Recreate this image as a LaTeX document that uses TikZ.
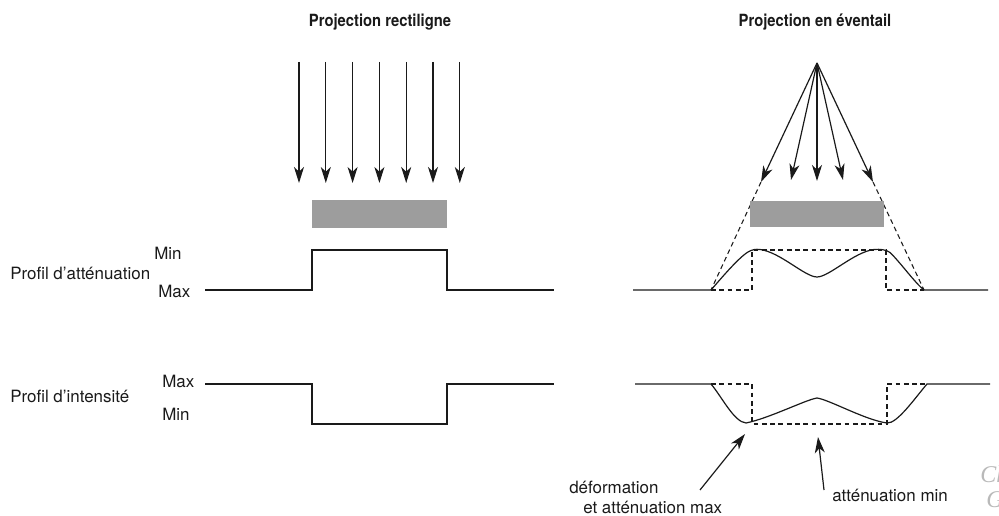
\documentclass[tikz,border=0pt]{standalone}
\usepackage{fontspec}
\setmainfont{TeX Gyre Heros}
\newfontfamily\titlefont[FakeStretch=0.88]{TeX Gyre Heros}
\newfontfamily\sigfont{Liberation Serif}
\usetikzlibrary{arrows.meta}
\definecolor{boxgray}{HTML}{9D9D9D}
\definecolor{ink}{HTML}{1A1A1A}
\begin{document}
\begin{tikzpicture}[x=0.75pt,y=-0.75pt,
  ray/.style={line width=0.9pt,draw=ink,-{Stealth[length=12pt,width=7.5pt,inset=3.5pt]}},
  prof/.style={line width=0.9pt,draw=ink,line join=miter},
  dashline/.style={line width=0.8pt,draw=ink,dash pattern=on 3.6pt off 2.6pt},
  lbl/.style={font=\fontsize{12.7}{14}\selectfont,text=ink,inner sep=0pt,anchor=west},
  ttl/.style={font=\titlefont\bfseries\fontsize{12.6}{14}\selectfont,text=ink,inner sep=0pt},
  objbox/.style={fill=boxgray,draw=none}]
\useasboundingbox (0,0) rectangle (999,516);

% ---------- titles ----------
\node[ttl] (t1) at (380,22) {Projection rectiligne};
\node[ttl] (t2) at (815,22) {Projection en éventail};

% ---------- left: parallel rays ----------
\foreach \i in {0,...,6}{
  \coordinate (ls\i) at ({299+26.8*\i},62);
  \coordinate (lt\i) at ({299+26.8*\i},183);
  \draw[ray] (ls\i) -- (lt\i);
}
\fill[objbox] (312,200) rectangle (447,228);

% labels
\node[lbl] (pa) at (10,273) {Profil d'atténuation};
\node[lbl] (amin) at (154,253) {Min};
\node[lbl] (amax) at (158,291) {Max};
\node[lbl] (pi) at (10,396) {Profil d'intensité};
\node[lbl] (imax) at (162,381) {Max};
\node[lbl] (imin) at (162,414) {Min};

% left profiles
\draw[prof] (205,290) -- (312,290) -- (312,250) -- (447,250) -- (447,290) -- (554,290);
\draw[prof] (205,384) -- (312,384) -- (312,424) -- (447,424) -- (447,384) -- (554,384);

% ---------- right: fan beam ----------
\coordinate (apex) at (817,63);
\coordinate (f1) at (761,182);
\coordinate (f2) at (791,180);
\coordinate (f3) at (817,181);
\coordinate (f4) at (843,180);
\coordinate (f5) at (873,182);
\foreach \k in {1,...,5}{ \draw[ray] (apex) -- (f\k); }
\coordinate (fl) at (711,290);
\coordinate (fr) at (924,290);
\draw[dashline] (f1) -- (fl);
\draw[dashline] (f5) -- (fr);
\fill[objbox] (750,201) rectangle (884,227);

% attenuation (fan)
\draw[dashline] (711,290) -- (752,290) -- (752,250) -- (886,250) -- (886,290) -- (924,290);
\draw[prof] (633,290) -- (711,290)
  .. controls (718,282) and (738,258) .. (748,252)
  .. controls (752,249.5) and (756,249) .. (760,249.5)
  .. controls (780,252) and (805,277) .. (817,277)
  .. controls (829,277) and (854,252) .. (874,249.5)
  .. controls (880,249) and (886,249.5) .. (890,252.5)
  .. controls (900,262) and (915,283) .. (924,290)
  -- (988,290);

% intensity (fan)
\draw[dashline] (711,384) -- (752,384) -- (752,424) -- (887,424) -- (887,384) -- (927,384);
\draw[prof] (635,384) -- (711,384)
  .. controls (722,397) and (734,422) .. (746,423)
  .. controls (770,418) and (805,400) .. (817,398)
  .. controls (830,400) and (865,420) .. (887,423)
  .. controls (897,424) and (915,398) .. (927,384)
  -- (990,384);

% annotations
\coordinate (a1s) at (700,490);
\coordinate (a1t) at (745,434);
\coordinate (a2s) at (824,490);
\coordinate (a2t) at (818,437);
\draw[ray] (a1s) -- (a1t);
\draw[ray] (a2s) -- (a2t);
\node[lbl] (d1) at (569,487) {déformation};
\node[lbl] (d2) at (583,507) {et atténuation max};
\node[lbl] (d3) at (832,495) {atténuation min};

% signature
\node[font=\sigfont\itshape\fontsize{18}{18}\selectfont,text=gray!55,inner sep=0pt,anchor=west] (sg1) at (980,474) {Ch};
\node[font=\sigfont\itshape\fontsize{18}{18}\selectfont,text=gray!55,inner sep=0pt,anchor=west] (sg2) at (986,500) {G};
\end{tikzpicture}
\end{document}
